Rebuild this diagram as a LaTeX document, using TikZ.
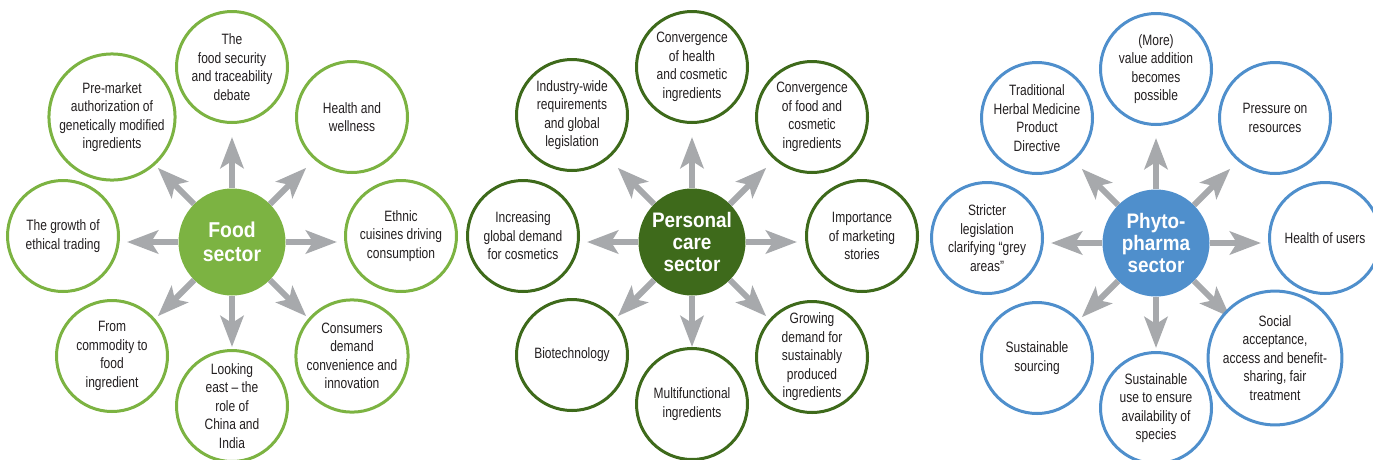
\documentclass[tikz,border=0pt]{standalone}
\usepackage{fontspec}
\setmainfont{Liberation Sans}[FakeStretch=0.8]
\newfontfamily\hubfont{Liberation Sans}[FakeStretch=0.9]
\usetikzlibrary{arrows.meta}

\definecolor{foodgreen}{HTML}{7CB342}
\definecolor{caregreen}{HTML}{3E6A1B}
\definecolor{phytoblue}{HTML}{4F8FCC}
\definecolor{spokegray}{HTML}{A7A9AC}
\definecolor{inkgray}{HTML}{231F20}

\begin{document}
\begin{tikzpicture}[x = 1pt, y = 1pt,
		leaf/.style = {circle, draw, line width = 3pt, fill = white, minimum size = 111pt, inner sep = 0pt, align = center, text = inkgray, font = \fontsize{15}{18.5}\selectfont},
		hub/.style = {circle, minimum size = 107pt, inner sep = 0pt, align = center, text = white, font = \hubfont\bfseries\fontsize{21}{22}\selectfont},
		spoke/.style = {-{Stealth[width = 23pt, length = 31pt, inset = 7pt]}, line width = 6pt, draw = spokegray}]
				%	page
				\useasboundingbox (0, 0) rectangle (1373, -459);
				
				\def\reach{105}
				
				%	food sector
				\begin{scope}[shift = {(232, -242)}]
				\node[hub, fill = foodgreen, font = \hubfont\bfseries\fontsize{21.5}{24}\selectfont] (food) at (0, 0) {Food\\sector};
				\foreach \a in {0, 45, ..., 315}{
					\path (food.center) ++(\a:\reach) coordinate (food-t\a);
					\draw[spoke] (food) -- (food-t\a);
				}
				\node[leaf, draw = foodgreen] (food-n) at (0, 175) {The\\food security\\and traceability\\debate};
				\node[leaf, draw = foodgreen] (food-nw) at (-120, 125) {Pre-market\\authorization of\\genetically modified\\ingredients};
				\node[leaf, draw = foodgreen] (food-ne) at (120, 125) {Health and\\wellness};
				\node[leaf, draw = foodgreen] (food-w) at (-169, 6) {The growth of\\ethical trading};
				\node[leaf, draw = foodgreen] (food-e) at (169, 6) {Ethnic\\cuisines driving\\consumption};
				\node[leaf, draw = foodgreen] (food-sw) at (-120, -114) {From\\commodity to\\food\\ingredient};
				\node[leaf, draw = foodgreen] (food-s) at (0, -164) {Looking\\east -- the\\role of\\China and\\India};
				\node[leaf, draw = foodgreen] (food-se) at (120, -114) {Consumers\\demand\\convenience and\\innovation};
				\end{scope}
				
				%	personal care sector
				\begin{scope}[shift = {(692, -242)}]
				\node[hub, fill = caregreen] (care) at (0, 0) {Personal\\care\\sector};
				\foreach \a in {0, 45, ..., 315}{
					\path (care.center) ++(\a:\reach) coordinate (care-t\a);
					\draw[spoke] (care) -- (care-t\a);
				}
				\node[leaf, draw = caregreen] (care-n) at (0, 175) {Convergence\\of health\\and cosmetic\\ingredients};
				\node[leaf, draw = caregreen] (care-nw) at (-120, 127) {Industry-wide\\requirements\\and global\\legislation};
				\node[leaf, draw = caregreen] (care-ne) at (120, 125) {Convergence\\of food and\\cosmetic\\ingredients};
				\node[leaf, draw = caregreen] (care-w) at (-169, 6) {Increasing\\global demand\\for cosmetics};
				\node[leaf, draw = caregreen] (care-e) at (170, 6) {Importance\\of marketing\\stories};
				\node[leaf, draw = caregreen] (care-sw) at (-120, -113) {Biotechnology};
				\node[leaf, draw = caregreen] (care-s) at (0, -162) {Multifunctional\\ingredients};
				\node[leaf, draw = caregreen] (care-se) at (120, -115) {Growing\\demand for\\sustainably\\produced\\ingredients};
				\end{scope}
				
				%	phytopharma sector
				\begin{scope}[shift = {(1156, -243)}]
				\node[hub, fill = phytoblue] (phyto) at (0, 0) {Phyto-\\pharma\\sector};
				\foreach \a in {0, 45, ..., 315}{
					\path (phyto.center) ++(\a:\reach) coordinate (phyto-t\a);
					\draw[spoke] (phyto) -- (phyto-t\a);
				}
				\node[leaf, draw = phytoblue] (phyto-n) at (0, 174) {(More)\\value addition\\becomes\\possible};
				\node[leaf, draw = phytoblue] (phyto-nw) at (-119, 125) {Traditional\\Herbal Medicine\\Product\\Directive};
				\node[leaf, draw = phytoblue] (phyto-ne) at (119, 125) {Pressure on\\resources};
				\node[leaf, draw = phytoblue] (phyto-w) at (-169, 5) {Stricter\\legislation\\clarifying “grey\\areas”};
				\node[leaf, draw = phytoblue] (phyto-e) at (169, 5) {Health of users};
				\node[leaf, draw = phytoblue] (phyto-sw) at (-119, -115) {Sustainable\\sourcing};
				\node[leaf, draw = phytoblue] (phyto-s) at (0, -165) {Sustainable\\use to ensure\\availability of\\species};
				\node[leaf, draw = phytoblue] (phyto-se) at (119, -115) {Social\\acceptance,\\access and benefit-\\sharing, fair\\treatment};
				\end{scope}
\end{tikzpicture}
\end{document}
